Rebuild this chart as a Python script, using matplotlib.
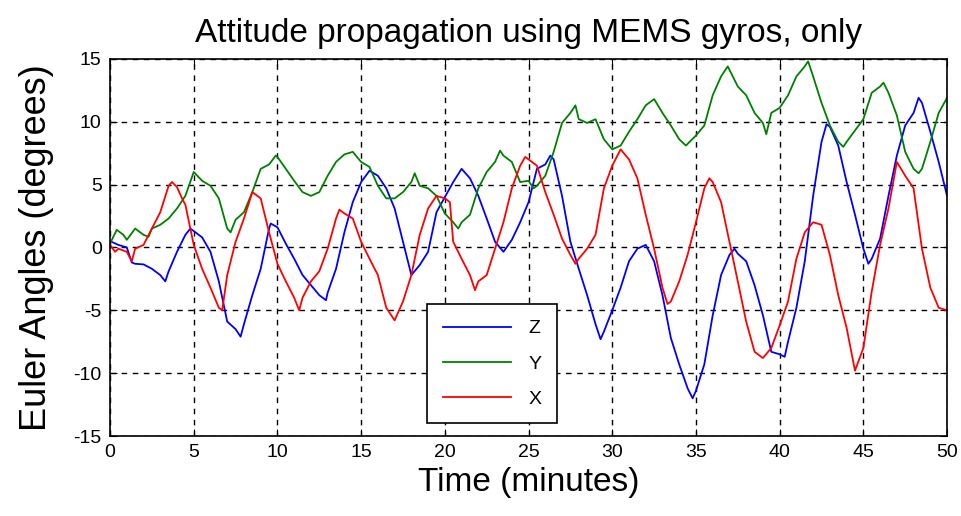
import matplotlib
matplotlib.use("Agg")
import matplotlib.pyplot as plt

# Z (blue)
z_t = [0, 0.5, 1, 1.3, 1.5, 2, 2.5, 3, 3.3, 3.5, 4, 4.5, 4.8, 5, 5.5, 6, 6.5, 7, 7.5, 7.8, 8, 8.5, 9, 9.5, 9.6,
       10, 10.5, 11, 11.5, 12, 12.5, 12.9, 13, 13.5, 14, 14.5, 15, 15.5, 16, 16.5, 17, 17.5, 18, 18.5, 19, 19.5,
       20, 20.5, 21, 21.5, 22, 22.5, 23, 23.5, 24, 24.5, 25, 25.5, 26, 26.3, 26.5, 27, 27.5, 28, 28.5, 29, 29.3, 29.5,
       30, 30.5, 31, 31.5, 32, 32.5, 33, 33.5, 34, 34.5, 34.8, 35, 35.5, 36, 36.5, 37, 37.3, 37.5, 38, 38.5, 39, 39.5,
       40, 40.3, 40.5, 41, 41.5, 42, 42.5, 42.8, 43, 43.5, 44, 44.5, 45, 45.3, 45.5, 46, 46.5, 47, 47.5, 48, 48.3, 48.5,
       49, 49.5, 50]
z_v = [0.5, 0.2, 0.0, -1.2, -1.3, -1.35, -1.7, -2.2, -2.7, -1.9, -0.35, 1.0, 1.5, 1.3, 0.8, -0.35, -2.7, -5.9, -6.5, -7.1, -6.1, -3.8, -1.7, 1.5, 1.9,
       1.6, 0.3, -0.9, -2.2, -3.0, -3.8, -4.2, -3.6, -1.7, 1.2, 3.6, 5.2, 6.1, 5.7, 4.7, 3.1, 0.45, -2.2, -1.4, -0.35, 2.8,
       4.0, 5.2, 6.25, 5.5, 4.1, 2.3, 0.45, -0.35, 0.6, 2.0, 3.6, 6.25, 6.6, 7.3, 7.0, 4.1, 0.45, -1.7, -3.8, -6.1, -7.3, -6.7,
       -5.0, -3.2, -1.1, -0.1, 0.2, -1.1, -3.8, -7.2, -9.3, -11.2, -12.0, -11.4, -9.3, -5.4, -2.2, -0.6, -0.1, -0.5, -1.1, -3.0, -5.4, -8.3,
       -8.5, -8.7, -7.5, -4.8, -1.1, 4.1, 8.4, 9.8, 9.6, 8.1, 5.2, 2.6, -0.1, -1.3, -0.9, 0.7, 4.1, 7.3, 9.7, 10.7, 11.9, 11.5,
       9.2, 6.8, 4.1]

# Y (green)
y_t = [0, 0.4, 0.8, 1, 1.5, 2, 2.3, 2.5, 3, 3.5, 4, 4.5, 5, 5.5, 6, 6.5, 7, 7.2, 7.5, 8, 8.5, 9, 9.5, 9.9,
       10, 10.5, 11, 11.5, 12, 12.5, 13, 13.5, 14, 14.5, 15, 15.5, 16, 16.5, 17, 17.5, 18, 18.2, 18.5, 19, 19.5,
       20, 20.5, 20.8, 21, 21.5, 22, 22.5, 23, 23.3, 23.5, 24, 24.5, 25, 25.3, 25.5, 26, 26.5, 27, 27.5, 27.8, 28, 28.5, 29, 29.5,
       30, 30.5, 31, 31.5, 32, 32.5, 33, 33.5, 34, 34.4, 35, 35.5, 36, 36.5, 36.9, 37.5, 38, 38.5, 39, 39.2, 39.5,
       40, 40.5, 41, 41.5, 41.7, 42, 42.5, 43, 43.5, 43.8, 44, 44.5, 45, 45.5, 46, 46.2, 46.5, 47, 47.5, 48, 48.3, 48.5,
       49, 49.5, 50]
y_v = [0.3, 1.4, 1.0, 0.6, 1.5, 1.0, 0.85, 1.5, 1.8, 2.3, 3.1, 4.1, 6.0, 5.3, 4.9, 3.9, 1.5, 1.2, 2.2, 2.8, 4.4, 6.25, 6.6, 7.3,
       7.2, 6.25, 5.3, 4.4, 4.1, 4.4, 5.7, 6.8, 7.4, 7.6, 6.8, 6.4, 4.9, 3.9, 3.9, 4.4, 5.2, 5.9, 4.9, 4.7, 4.1,
       2.7, 2.0, 1.5, 2.0, 2.6, 4.7, 6.0, 6.8, 7.7, 7.3, 6.8, 5.2, 5.3, 4.7, 4.9, 5.7, 7.6, 9.9, 10.7, 11.3, 10.2, 9.9, 10.2, 8.6,
       7.8, 8.1, 9.2, 10.2, 11.3, 11.8, 10.7, 9.7, 8.6, 8.1, 8.9, 9.7, 12.1, 13.6, 14.4, 12.8, 12.1, 10.7, 9.9, 9.0, 10.7,
       11.1, 12.1, 13.6, 14.4, 14.8, 13.6, 11.5, 9.7, 8.4, 8.0, 8.4, 9.3, 10.2, 12.3, 12.8, 13.1, 12.3, 10.5, 7.6, 6.25, 5.9, 6.25,
       8.4, 10.7, 11.9]

# X (red)
x_t = [0, 0.3, 0.5, 1, 1.3, 1.5, 2, 2.5, 3, 3.5, 3.7, 4, 4.3, 4.5, 5, 5.5, 6, 6.5, 6.7, 7, 7.5, 8, 8.5, 9, 9.5,
       10, 10.5, 11, 11.3, 11.5, 12, 12.5, 13, 13.5, 13.7, 14, 14.5, 15, 15.5, 16, 16.5, 17, 17.5, 18, 18.5, 19, 19.5,
       20, 20.3, 20.5, 21, 21.5, 21.8, 22, 22.5, 23, 23.5, 24, 24.5, 24.8, 25, 25.5, 26, 26.5, 27, 27.5, 27.8, 28, 28.5, 29, 29.5,
       30, 30.5, 31, 31.5, 32, 32.5, 33, 33.3, 33.5, 34, 34.5, 35, 35.5, 35.8, 36, 36.5, 37, 37.5, 38, 38.5, 39, 39.5,
       40, 40.5, 41, 41.5, 42, 42.5, 43, 43.5, 44, 44.5, 45, 45.5, 46, 46.5, 47, 47.5, 48, 48.5, 49, 49.5, 50]
x_v = [0.2, -0.35, -0.1, -0.35, -1.1, -0.1, 0.2, 1.5, 2.8, 4.9, 5.2, 4.8, 3.9, 3.4, 0.2, -1.7, -3.2, -4.8, -5.0, -2.2, 0.45, 2.3, 4.4, 3.9, 1.2,
       -1.3, -2.7, -4.0, -5.0, -4.0, -2.7, -1.9, -0.1, 2.3, 3.0, 2.7, 2.3, 0.45, -0.9, -2.2, -4.8, -5.8, -4.3, -2.2, 1.0, 3.1, 4.1,
       3.9, 3.6, 0.45, -0.9, -2.2, -3.4, -2.7, -2.2, -0.1, 2.0, 4.7, 6.5, 7.2, 7.0, 6.5, 4.4, 2.6, 0.7, -0.6, -1.3, -0.9, -0.1, 1.0, 4.7,
       6.5, 7.8, 7.0, 5.5, 2.6, -0.1, -3.2, -4.5, -4.3, -2.7, -0.6, 2.0, 4.7, 5.5, 5.2, 3.6, 0.45, -2.7, -5.9, -8.3, -8.8, -8.0,
       -6.2, -4.3, -0.9, 1.2, 2.0, 1.8, -0.6, -3.8, -6.4, -9.8, -8.0, -3.5, 0.2, 3.1, 6.8, 5.7, 4.7, -0.1, -3.2, -4.8, -5.0]

series_labels = ["Z", "Y", "X"]
series_colors = ["#0000ff", "#008000", "#ff0000"]
x_ticks = [0, 5, 10, 15, 20, 25, 30, 35, 40, 45, 50]
y_ticks = [-15, -10, -5, 0, 5, 10, 15]

plt.rcParams['font.family'] = ['Liberation Sans', 'DejaVu Sans']
plt.rcParams['axes.unicode_minus'] = False

fig = plt.figure(figsize=(9.61, 5.16), dpi=100)
ax = fig.add_axes([0.1145, 0.155, 0.871, 0.731])

for t, v, lab, col in zip([z_t, y_t, x_t], [z_v, y_v, x_v], series_labels, series_colors):
    ax.plot(t, v, color=col, lw=1.3, label=lab)

ax.set_xlim(0, 50)
ax.set_ylim(-15, 15)
ax.set_xticks(x_ticks)
ax.set_yticks(y_ticks)
ax.tick_params(direction='in', top=True, right=True, length=5, labelsize=14, pad=6)
ax.grid(True, color='black', linestyle=(0, (4, 4)), linewidth=1)
for s in ax.spines.values():
    s.set_linewidth(1.2)

ax.set_title("Attitude propagation using MEMS gyros, only", fontsize=24, pad=12)
ax.set_xlabel("Time (minutes)", fontsize=24, labelpad=4)
ax.set_ylabel("Euler Angles (degrees)", fontsize=26, labelpad=14)

leg = ax.legend(loc='lower left', bbox_to_anchor=(0.379, 0.034), fontsize=14,
                handlelength=3.5, labelspacing=0.9, borderpad=0.8, handletextpad=0.9,
                fancybox=False, framealpha=1, edgecolor='black', borderaxespad=0)
leg.get_frame().set_linewidth(1.2)

fig.savefig("out.png", dpi=100)
